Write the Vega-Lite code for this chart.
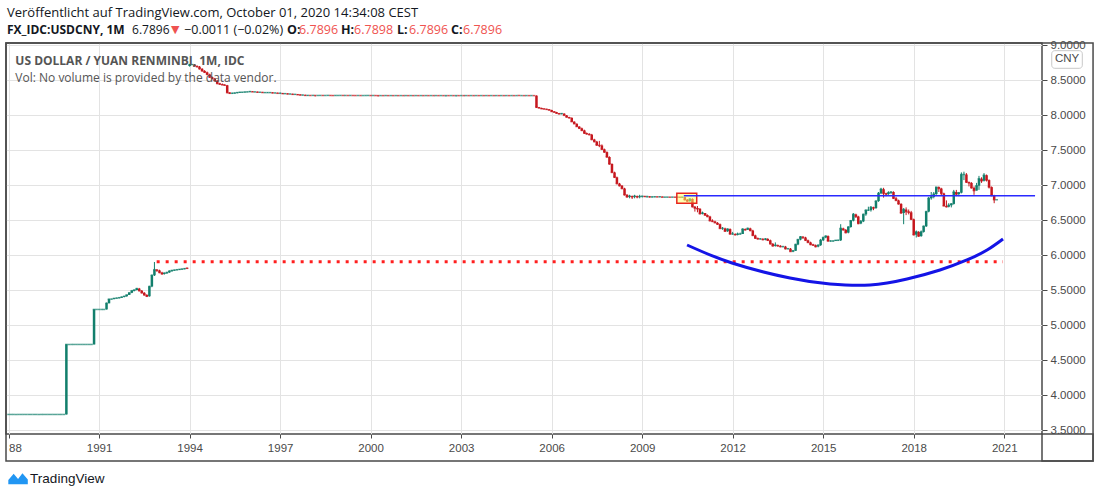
{
  "$schema": "https://vega.github.io/schema/vega-lite/v6.json",
  "width": 1036,
  "height": 391,
  "autosize": {"type": "none"},
  "padding": {"left": 6, "top": 43, "right": 58, "bottom": 64},
  "background": "white",
  "config": {
    "view": {"stroke": "#4a4a4a", "strokeWidth": 1.5},
    "font": "Liberation Sans",
    "axis": {"labelOverlap": false, "title": null}
  },
  "datasets": {
    "fx": [
      {"d":"1988-01-01","o":3.7221,"h":3.7221,"l":3.7221,"c":3.7221},
      {"d":"1988-02-01","o":3.7221,"h":3.7221,"l":3.7221,"c":3.7221},
      {"d":"1988-03-01","o":3.7221,"h":3.7221,"l":3.7221,"c":3.7221},
      {"d":"1988-04-01","o":3.7221,"h":3.7221,"l":3.7221,"c":3.7221},
      {"d":"1988-05-01","o":3.7221,"h":3.7221,"l":3.7221,"c":3.7221},
      {"d":"1988-06-01","o":3.7221,"h":3.7221,"l":3.7221,"c":3.7221},
      {"d":"1988-07-01","o":3.7221,"h":3.7221,"l":3.7221,"c":3.7221},
      {"d":"1988-08-01","o":3.7221,"h":3.7221,"l":3.7221,"c":3.7221},
      {"d":"1988-09-01","o":3.7221,"h":3.7221,"l":3.7221,"c":3.7221},
      {"d":"1988-10-01","o":3.7221,"h":3.7221,"l":3.7221,"c":3.7221},
      {"d":"1988-11-01","o":3.7221,"h":3.7221,"l":3.7221,"c":3.7221},
      {"d":"1988-12-01","o":3.7221,"h":3.7221,"l":3.7221,"c":3.7221},
      {"d":"1989-01-01","o":3.7221,"h":3.7221,"l":3.7221,"c":3.7221},
      {"d":"1989-02-01","o":3.7221,"h":3.7221,"l":3.7221,"c":3.7221},
      {"d":"1989-03-01","o":3.7221,"h":3.7221,"l":3.7221,"c":3.7221},
      {"d":"1989-04-01","o":3.7221,"h":3.7221,"l":3.7221,"c":3.7221},
      {"d":"1989-05-01","o":3.7221,"h":3.7221,"l":3.7221,"c":3.7221},
      {"d":"1989-06-01","o":3.7221,"h":3.7221,"l":3.7221,"c":3.7221},
      {"d":"1989-07-01","o":3.7221,"h":3.7221,"l":3.7221,"c":3.7221},
      {"d":"1989-08-01","o":3.7221,"h":3.7221,"l":3.7221,"c":3.7221},
      {"d":"1989-09-01","o":3.7221,"h":3.7221,"l":3.7221,"c":3.7221},
      {"d":"1989-10-01","o":3.7221,"h":3.7221,"l":3.7221,"c":3.7221},
      {"d":"1989-11-01","o":3.7221,"h":3.7221,"l":3.7221,"c":3.7221},
      {"d":"1989-12-01","o":3.7221,"h":4.7221,"l":3.7221,"c":4.7221},
      {"d":"1990-01-01","o":4.7221,"h":4.7221,"l":4.7221,"c":4.7221},
      {"d":"1990-02-01","o":4.7221,"h":4.7221,"l":4.7221,"c":4.7221},
      {"d":"1990-03-01","o":4.7221,"h":4.7221,"l":4.7221,"c":4.7221},
      {"d":"1990-04-01","o":4.7221,"h":4.7221,"l":4.7221,"c":4.7221},
      {"d":"1990-05-01","o":4.7221,"h":4.7221,"l":4.7221,"c":4.7221},
      {"d":"1990-06-01","o":4.7221,"h":4.7221,"l":4.7221,"c":4.7221},
      {"d":"1990-07-01","o":4.7221,"h":4.7221,"l":4.7221,"c":4.7221},
      {"d":"1990-08-01","o":4.7221,"h":4.7221,"l":4.7221,"c":4.7221},
      {"d":"1990-09-01","o":4.7221,"h":4.7221,"l":4.7221,"c":4.7221},
      {"d":"1990-10-01","o":4.7221,"h":4.7221,"l":4.7221,"c":4.7221},
      {"d":"1990-11-01","o":4.7221,"h":5.2221,"l":4.7221,"c":5.2221},
      {"d":"1990-12-01","o":5.2221,"h":5.2221,"l":5.2221,"c":5.2221},
      {"d":"1991-01-01","o":5.2221,"h":5.2221,"l":5.2221,"c":5.2221},
      {"d":"1991-02-01","o":5.2221,"h":5.2221,"l":5.2221,"c":5.2221},
      {"d":"1991-03-01","o":5.2221,"h":5.2221,"l":5.2221,"c":5.2221},
      {"d":"1991-04-01","o":5.2221,"h":5.32,"l":5.2221,"c":5.31},
      {"d":"1991-05-01","o":5.31,"h":5.37,"l":5.31,"c":5.37},
      {"d":"1991-06-01","o":5.37,"h":5.375,"l":5.365,"c":5.37},
      {"d":"1991-07-01","o":5.37,"h":5.385,"l":5.37,"c":5.38},
      {"d":"1991-08-01","o":5.38,"h":5.39,"l":5.38,"c":5.385},
      {"d":"1991-09-01","o":5.385,"h":5.395,"l":5.38,"c":5.39},
      {"d":"1991-10-01","o":5.39,"h":5.405,"l":5.39,"c":5.4},
      {"d":"1991-11-01","o":5.4,"h":5.415,"l":5.395,"c":5.41},
      {"d":"1991-12-01","o":5.41,"h":5.43,"l":5.405,"c":5.43},
      {"d":"1992-01-01","o":5.43,"h":5.46,"l":5.43,"c":5.46},
      {"d":"1992-02-01","o":5.46,"h":5.49,"l":5.455,"c":5.49},
      {"d":"1992-03-01","o":5.49,"h":5.505,"l":5.48,"c":5.5},
      {"d":"1992-04-01","o":5.5,"h":5.53,"l":5.495,"c":5.52},
      {"d":"1992-05-01","o":5.52,"h":5.53,"l":5.48,"c":5.49},
      {"d":"1992-06-01","o":5.49,"h":5.5,"l":5.45,"c":5.46},
      {"d":"1992-07-01","o":5.46,"h":5.47,"l":5.42,"c":5.43},
      {"d":"1992-08-01","o":5.43,"h":5.44,"l":5.4,"c":5.41},
      {"d":"1992-09-01","o":5.41,"h":5.56,"l":5.405,"c":5.55},
      {"d":"1992-10-01","o":5.55,"h":5.72,"l":5.54,"c":5.71},
      {"d":"1992-11-01","o":5.71,"h":5.9,"l":5.7,"c":5.79},
      {"d":"1992-12-01","o":5.79,"h":5.8,"l":5.76,"c":5.78},
      {"d":"1993-01-01","o":5.78,"h":5.79,"l":5.74,"c":5.75},
      {"d":"1993-02-01","o":5.75,"h":5.76,"l":5.72,"c":5.73},
      {"d":"1993-03-01","o":5.73,"h":5.75,"l":5.72,"c":5.74},
      {"d":"1993-04-01","o":5.74,"h":5.76,"l":5.73,"c":5.75},
      {"d":"1993-05-01","o":5.75,"h":5.78,"l":5.745,"c":5.77},
      {"d":"1993-06-01","o":5.77,"h":5.785,"l":5.76,"c":5.78},
      {"d":"1993-07-01","o":5.78,"h":5.79,"l":5.775,"c":5.785},
      {"d":"1993-08-01","o":5.785,"h":5.795,"l":5.78,"c":5.79},
      {"d":"1993-09-01","o":5.79,"h":5.8,"l":5.785,"c":5.795},
      {"d":"1993-10-01","o":5.795,"h":5.805,"l":5.79,"c":5.8},
      {"d":"1993-11-01","o":5.8,"h":5.81,"l":5.795,"c":5.805},
      {"d":"1993-12-01","o":5.815,"h":5.82,"l":5.8,"c":5.81},
      {"d":"1994-01-01","o":8.7,"h":8.73,"l":8.69,"c":8.72},
      {"d":"1994-02-01","o":8.72,"h":8.725,"l":8.715,"c":8.72},
      {"d":"1994-03-01","o":8.72,"h":8.725,"l":8.7,"c":8.7},
      {"d":"1994-04-01","o":8.7,"h":8.71,"l":8.68,"c":8.69},
      {"d":"1994-05-01","o":8.69,"h":8.7,"l":8.65,"c":8.66},
      {"d":"1994-06-01","o":8.66,"h":8.67,"l":8.62,"c":8.63},
      {"d":"1994-07-01","o":8.63,"h":8.64,"l":8.6,"c":8.61},
      {"d":"1994-08-01","o":8.61,"h":8.62,"l":8.57,"c":8.58},
      {"d":"1994-09-01","o":8.58,"h":8.59,"l":8.53,"c":8.54},
      {"d":"1994-10-01","o":8.54,"h":8.55,"l":8.51,"c":8.52},
      {"d":"1994-11-01","o":8.52,"h":8.53,"l":8.49,"c":8.49},
      {"d":"1994-12-01","o":8.49,"h":8.5,"l":8.44,"c":8.45},
      {"d":"1995-01-01","o":8.45,"h":8.46,"l":8.43,"c":8.44},
      {"d":"1995-02-01","o":8.44,"h":8.45,"l":8.43,"c":8.43},
      {"d":"1995-03-01","o":8.43,"h":8.44,"l":8.42,"c":8.425},
      {"d":"1995-04-01","o":8.425,"h":8.43,"l":8.31,"c":8.32},
      {"d":"1995-05-01","o":8.32,"h":8.325,"l":8.3,"c":8.31},
      {"d":"1995-06-01","o":8.31,"h":8.32,"l":8.3,"c":8.31},
      {"d":"1995-07-01","o":8.31,"h":8.32,"l":8.305,"c":8.315},
      {"d":"1995-08-01","o":8.315,"h":8.325,"l":8.31,"c":8.32},
      {"d":"1995-09-01","o":8.32,"h":8.33,"l":8.315,"c":8.325},
      {"d":"1995-10-01","o":8.325,"h":8.33,"l":8.32,"c":8.325},
      {"d":"1995-11-01","o":8.325,"h":8.33,"l":8.32,"c":8.33},
      {"d":"1995-12-01","o":8.33,"h":8.335,"l":8.325,"c":8.33},
      {"d":"1996-01-01","o":8.33,"h":8.34,"l":8.325,"c":8.335},
      {"d":"1996-02-01","o":8.335,"h":8.34,"l":8.33,"c":8.33},
      {"d":"1996-03-01","o":8.33,"h":8.335,"l":8.325,"c":8.33},
      {"d":"1996-04-01","o":8.33,"h":8.335,"l":8.32,"c":8.325},
      {"d":"1996-05-01","o":8.325,"h":8.33,"l":8.32,"c":8.325},
      {"d":"1996-06-01","o":8.325,"h":8.33,"l":8.32,"c":8.32},
      {"d":"1996-07-01","o":8.32,"h":8.325,"l":8.315,"c":8.32},
      {"d":"1996-08-01","o":8.32,"h":8.325,"l":8.315,"c":8.32},
      {"d":"1996-09-01","o":8.32,"h":8.325,"l":8.315,"c":8.32},
      {"d":"1996-10-01","o":8.32,"h":8.325,"l":8.31,"c":8.315},
      {"d":"1996-11-01","o":8.315,"h":8.32,"l":8.31,"c":8.315},
      {"d":"1996-12-01","o":8.315,"h":8.32,"l":8.31,"c":8.31},
      {"d":"1997-01-01","o":8.31,"h":8.32,"l":8.305,"c":8.31},
      {"d":"1997-02-01","o":8.31,"h":8.315,"l":8.3,"c":8.305},
      {"d":"1997-03-01","o":8.305,"h":8.31,"l":8.3,"c":8.305},
      {"d":"1997-04-01","o":8.305,"h":8.31,"l":8.295,"c":8.3},
      {"d":"1997-05-01","o":8.3,"h":8.305,"l":8.295,"c":8.3},
      {"d":"1997-06-01","o":8.3,"h":8.305,"l":8.29,"c":8.295},
      {"d":"1997-07-01","o":8.295,"h":8.3,"l":8.29,"c":8.295},
      {"d":"1997-08-01","o":8.295,"h":8.3,"l":8.285,"c":8.29},
      {"d":"1997-09-01","o":8.29,"h":8.295,"l":8.28,"c":8.285},
      {"d":"1997-10-01","o":8.285,"h":8.29,"l":8.28,"c":8.285},
      {"d":"1997-11-01","o":8.285,"h":8.29,"l":8.275,"c":8.28},
      {"d":"1997-12-01","o":8.28,"h":8.285,"l":8.275,"c":8.28},
      {"d":"1998-01-01","o":8.28,"h":8.282,"l":8.278,"c":8.279},
      {"d":"1998-02-01","o":8.279,"h":8.281,"l":8.278,"c":8.28},
      {"d":"1998-03-01","o":8.28,"h":8.281,"l":8.265,"c":8.279},
      {"d":"1998-04-01","o":8.279,"h":8.28,"l":8.278,"c":8.279},
      {"d":"1998-05-01","o":8.279,"h":8.28,"l":8.278,"c":8.2795},
      {"d":"1998-06-01","o":8.2795,"h":8.281,"l":8.278,"c":8.279},
      {"d":"1998-07-01","o":8.279,"h":8.28,"l":8.278,"c":8.279},
      {"d":"1998-08-01","o":8.279,"h":8.281,"l":8.278,"c":8.28},
      {"d":"1998-09-01","o":8.28,"h":8.281,"l":8.278,"c":8.279},
      {"d":"1998-10-01","o":8.279,"h":8.28,"l":8.277,"c":8.278},
      {"d":"1998-11-01","o":8.278,"h":8.28,"l":8.277,"c":8.279},
      {"d":"1998-12-01","o":8.279,"h":8.28,"l":8.278,"c":8.279},
      {"d":"1999-01-01","o":8.279,"h":8.28,"l":8.278,"c":8.2795},
      {"d":"1999-02-01","o":8.2795,"h":8.28,"l":8.278,"c":8.279},
      {"d":"1999-03-01","o":8.279,"h":8.28,"l":8.278,"c":8.279},
      {"d":"1999-04-01","o":8.279,"h":8.2795,"l":8.278,"c":8.2785},
      {"d":"1999-05-01","o":8.2785,"h":8.2795,"l":8.277,"c":8.279},
      {"d":"1999-06-01","o":8.279,"h":8.28,"l":8.278,"c":8.2785},
      {"d":"1999-07-01","o":8.2785,"h":8.279,"l":8.277,"c":8.278},
      {"d":"1999-08-01","o":8.278,"h":8.279,"l":8.2775,"c":8.2785},
      {"d":"1999-09-01","o":8.2785,"h":8.279,"l":8.277,"c":8.278},
      {"d":"1999-10-01","o":8.278,"h":8.279,"l":8.2775,"c":8.278},
      {"d":"1999-11-01","o":8.278,"h":8.279,"l":8.277,"c":8.2785},
      {"d":"1999-12-01","o":8.2785,"h":8.279,"l":8.277,"c":8.279},
      {"d":"2000-01-01","o":8.279,"h":8.2795,"l":8.277,"c":8.278},
      {"d":"2000-02-01","o":8.278,"h":8.279,"l":8.2775,"c":8.2785},
      {"d":"2000-03-01","o":8.2785,"h":8.279,"l":8.277,"c":8.278},
      {"d":"2000-04-01","o":8.278,"h":8.279,"l":8.265,"c":8.277},
      {"d":"2000-05-01","o":8.277,"h":8.278,"l":8.2765,"c":8.2775},
      {"d":"2000-06-01","o":8.2775,"h":8.278,"l":8.2765,"c":8.277},
      {"d":"2000-07-01","o":8.277,"h":8.2785,"l":8.2765,"c":8.278},
      {"d":"2000-08-01","o":8.278,"h":8.2785,"l":8.2765,"c":8.277},
      {"d":"2000-09-01","o":8.277,"h":8.278,"l":8.2765,"c":8.2775},
      {"d":"2000-10-01","o":8.2775,"h":8.278,"l":8.2765,"c":8.277},
      {"d":"2000-11-01","o":8.277,"h":8.278,"l":8.2765,"c":8.2775},
      {"d":"2000-12-01","o":8.2775,"h":8.278,"l":8.2765,"c":8.277},
      {"d":"2001-01-01","o":8.277,"h":8.278,"l":8.2765,"c":8.2775},
      {"d":"2001-02-01","o":8.2775,"h":8.278,"l":8.2765,"c":8.277},
      {"d":"2001-03-01","o":8.277,"h":8.278,"l":8.2765,"c":8.2775},
      {"d":"2001-04-01","o":8.2775,"h":8.278,"l":8.2765,"c":8.277},
      {"d":"2001-05-01","o":8.277,"h":8.278,"l":8.2765,"c":8.2775},
      {"d":"2001-06-01","o":8.2775,"h":8.278,"l":8.2765,"c":8.277},
      {"d":"2001-07-01","o":8.277,"h":8.278,"l":8.2765,"c":8.2775},
      {"d":"2001-08-01","o":8.2775,"h":8.278,"l":8.2765,"c":8.277},
      {"d":"2001-09-01","o":8.277,"h":8.278,"l":8.2765,"c":8.2775},
      {"d":"2001-10-01","o":8.2775,"h":8.278,"l":8.2765,"c":8.277},
      {"d":"2001-11-01","o":8.277,"h":8.278,"l":8.2765,"c":8.2775},
      {"d":"2001-12-01","o":8.2775,"h":8.278,"l":8.2765,"c":8.277},
      {"d":"2002-01-01","o":8.277,"h":8.278,"l":8.2765,"c":8.2775},
      {"d":"2002-02-01","o":8.2775,"h":8.278,"l":8.2765,"c":8.277},
      {"d":"2002-03-01","o":8.277,"h":8.278,"l":8.2765,"c":8.2775},
      {"d":"2002-04-01","o":8.2775,"h":8.278,"l":8.2765,"c":8.277},
      {"d":"2002-05-01","o":8.277,"h":8.278,"l":8.2765,"c":8.2775},
      {"d":"2002-06-01","o":8.2775,"h":8.278,"l":8.2765,"c":8.277},
      {"d":"2002-07-01","o":8.277,"h":8.278,"l":8.265,"c":8.2775},
      {"d":"2002-08-01","o":8.2775,"h":8.278,"l":8.2765,"c":8.277},
      {"d":"2002-09-01","o":8.277,"h":8.278,"l":8.2765,"c":8.2775},
      {"d":"2002-10-01","o":8.2775,"h":8.278,"l":8.2765,"c":8.277},
      {"d":"2002-11-01","o":8.277,"h":8.278,"l":8.265,"c":8.2775},
      {"d":"2002-12-01","o":8.2775,"h":8.278,"l":8.2765,"c":8.277},
      {"d":"2003-01-01","o":8.277,"h":8.278,"l":8.2765,"c":8.2775},
      {"d":"2003-02-01","o":8.2775,"h":8.278,"l":8.2765,"c":8.277},
      {"d":"2003-03-01","o":8.277,"h":8.278,"l":8.2765,"c":8.2775},
      {"d":"2003-04-01","o":8.2775,"h":8.278,"l":8.2765,"c":8.277},
      {"d":"2003-05-01","o":8.277,"h":8.278,"l":8.2765,"c":8.2775},
      {"d":"2003-06-01","o":8.2775,"h":8.278,"l":8.2765,"c":8.277},
      {"d":"2003-07-01","o":8.277,"h":8.278,"l":8.2765,"c":8.2775},
      {"d":"2003-08-01","o":8.2775,"h":8.278,"l":8.2765,"c":8.277},
      {"d":"2003-09-01","o":8.277,"h":8.278,"l":8.2765,"c":8.2775},
      {"d":"2003-10-01","o":8.2775,"h":8.278,"l":8.2765,"c":8.277},
      {"d":"2003-11-01","o":8.277,"h":8.278,"l":8.2765,"c":8.2775},
      {"d":"2003-12-01","o":8.2775,"h":8.278,"l":8.2765,"c":8.277},
      {"d":"2004-01-01","o":8.277,"h":8.278,"l":8.2765,"c":8.2775},
      {"d":"2004-02-01","o":8.2775,"h":8.278,"l":8.2765,"c":8.277},
      {"d":"2004-03-01","o":8.277,"h":8.278,"l":8.2765,"c":8.2775},
      {"d":"2004-04-01","o":8.2775,"h":8.278,"l":8.2765,"c":8.277},
      {"d":"2004-05-01","o":8.277,"h":8.278,"l":8.2765,"c":8.2775},
      {"d":"2004-06-01","o":8.2775,"h":8.278,"l":8.2765,"c":8.277},
      {"d":"2004-07-01","o":8.277,"h":8.278,"l":8.2765,"c":8.2775},
      {"d":"2004-08-01","o":8.2775,"h":8.278,"l":8.2765,"c":8.277},
      {"d":"2004-09-01","o":8.277,"h":8.278,"l":8.2765,"c":8.2775},
      {"d":"2004-10-01","o":8.2775,"h":8.278,"l":8.2765,"c":8.277},
      {"d":"2004-11-01","o":8.277,"h":8.278,"l":8.2765,"c":8.2775},
      {"d":"2004-12-01","o":8.2775,"h":8.278,"l":8.2765,"c":8.277},
      {"d":"2005-01-01","o":8.277,"h":8.278,"l":8.2765,"c":8.2775},
      {"d":"2005-02-01","o":8.2775,"h":8.278,"l":8.2765,"c":8.277},
      {"d":"2005-03-01","o":8.277,"h":8.278,"l":8.2765,"c":8.2775},
      {"d":"2005-04-01","o":8.2775,"h":8.278,"l":8.2765,"c":8.277},
      {"d":"2005-05-01","o":8.277,"h":8.278,"l":8.2765,"c":8.2775},
      {"d":"2005-06-01","o":8.2775,"h":8.278,"l":8.2765,"c":8.277},
      {"d":"2005-07-01","o":8.277,"h":8.28,"l":8.1,"c":8.11},
      {"d":"2005-08-01","o":8.11,"h":8.115,"l":8.095,"c":8.1},
      {"d":"2005-09-01","o":8.1,"h":8.105,"l":8.085,"c":8.09},
      {"d":"2005-10-01","o":8.09,"h":8.095,"l":8.08,"c":8.085},
      {"d":"2005-11-01","o":8.085,"h":8.09,"l":8.075,"c":8.08},
      {"d":"2005-12-01","o":8.08,"h":8.085,"l":8.065,"c":8.07},
      {"d":"2006-01-01","o":8.07,"h":8.075,"l":8.045,"c":8.05},
      {"d":"2006-02-01","o":8.05,"h":8.055,"l":8.035,"c":8.04},
      {"d":"2006-03-01","o":8.04,"h":8.045,"l":8.02,"c":8.025},
      {"d":"2006-04-01","o":8.025,"h":8.03,"l":8.01,"c":8.015},
      {"d":"2006-05-01","o":8.015,"h":8.025,"l":8.01,"c":8.02},
      {"d":"2006-06-01","o":8.02,"h":8.025,"l":7.99,"c":7.995},
      {"d":"2006-07-01","o":7.995,"h":8.0,"l":7.965,"c":7.97},
      {"d":"2006-08-01","o":7.97,"h":7.975,"l":7.95,"c":7.96},
      {"d":"2006-09-01","o":7.96,"h":7.965,"l":7.9,"c":7.905},
      {"d":"2006-10-01","o":7.905,"h":7.91,"l":7.87,"c":7.875},
      {"d":"2006-11-01","o":7.875,"h":7.88,"l":7.83,"c":7.835},
      {"d":"2006-12-01","o":7.835,"h":7.84,"l":7.8,"c":7.81},
      {"d":"2007-01-01","o":7.81,"h":7.82,"l":7.77,"c":7.78},
      {"d":"2007-02-01","o":7.78,"h":7.79,"l":7.73,"c":7.74},
      {"d":"2007-03-01","o":7.74,"h":7.75,"l":7.72,"c":7.73},
      {"d":"2007-04-01","o":7.73,"h":7.74,"l":7.71,"c":7.72},
      {"d":"2007-05-01","o":7.72,"h":7.73,"l":7.64,"c":7.65},
      {"d":"2007-06-01","o":7.65,"h":7.66,"l":7.61,"c":7.62},
      {"d":"2007-07-01","o":7.62,"h":7.63,"l":7.56,"c":7.57},
      {"d":"2007-08-01","o":7.57,"h":7.63,"l":7.54,"c":7.565},
      {"d":"2007-09-01","o":7.565,"h":7.58,"l":7.5,"c":7.51},
      {"d":"2007-10-01","o":7.51,"h":7.52,"l":7.46,"c":7.47},
      {"d":"2007-11-01","o":7.47,"h":7.48,"l":7.39,"c":7.4},
      {"d":"2007-12-01","o":7.4,"h":7.41,"l":7.29,"c":7.3},
      {"d":"2008-01-01","o":7.3,"h":7.31,"l":7.17,"c":7.18},
      {"d":"2008-02-01","o":7.18,"h":7.19,"l":7.1,"c":7.11},
      {"d":"2008-03-01","o":7.11,"h":7.12,"l":7.01,"c":7.02},
      {"d":"2008-04-01","o":7.02,"h":7.03,"l":6.98,"c":6.99},
      {"d":"2008-05-01","o":6.99,"h":7.0,"l":6.94,"c":6.95},
      {"d":"2008-06-01","o":6.95,"h":6.96,"l":6.85,"c":6.86},
      {"d":"2008-07-01","o":6.86,"h":6.87,"l":6.82,"c":6.83},
      {"d":"2008-08-01","o":6.83,"h":6.86,"l":6.81,"c":6.84},
      {"d":"2008-09-01","o":6.84,"h":6.85,"l":6.8,"c":6.83},
      {"d":"2008-10-01","o":6.83,"h":6.86,"l":6.81,"c":6.84},
      {"d":"2008-11-01","o":6.84,"h":6.85,"l":6.81,"c":6.83},
      {"d":"2008-12-01","o":6.83,"h":6.86,"l":6.81,"c":6.835},
      {"d":"2009-01-01","o":6.835,"h":6.845,"l":6.82,"c":6.84},
      {"d":"2009-02-01","o":6.84,"h":6.845,"l":6.83,"c":6.835},
      {"d":"2009-03-01","o":6.835,"h":6.845,"l":6.82,"c":6.835},
      {"d":"2009-04-01","o":6.835,"h":6.84,"l":6.82,"c":6.83},
      {"d":"2009-05-01","o":6.83,"h":6.84,"l":6.82,"c":6.83},
      {"d":"2009-06-01","o":6.83,"h":6.835,"l":6.825,"c":6.832},
      {"d":"2009-07-01","o":6.832,"h":6.835,"l":6.825,"c":6.83},
      {"d":"2009-08-01","o":6.83,"h":6.835,"l":6.825,"c":6.832},
      {"d":"2009-09-01","o":6.832,"h":6.835,"l":6.825,"c":6.826},
      {"d":"2009-10-01","o":6.826,"h":6.83,"l":6.824,"c":6.827},
      {"d":"2009-11-01","o":6.827,"h":6.83,"l":6.824,"c":6.827},
      {"d":"2009-12-01","o":6.827,"h":6.83,"l":6.825,"c":6.826},
      {"d":"2010-01-01","o":6.826,"h":6.83,"l":6.825,"c":6.827},
      {"d":"2010-02-01","o":6.827,"h":6.83,"l":6.825,"c":6.826},
      {"d":"2010-03-01","o":6.826,"h":6.83,"l":6.825,"c":6.826},
      {"d":"2010-04-01","o":6.826,"h":6.83,"l":6.824,"c":6.825},
      {"d":"2010-05-01","o":6.825,"h":6.83,"l":6.82,"c":6.827},
      {"d":"2010-06-01","o":6.827,"h":6.83,"l":6.78,"c":6.79},
      {"d":"2010-07-01","o":6.79,"h":6.8,"l":6.76,"c":6.77},
      {"d":"2010-08-01","o":6.77,"h":6.81,"l":6.76,"c":6.8},
      {"d":"2010-09-01","o":6.8,"h":6.81,"l":6.68,"c":6.69},
      {"d":"2010-10-01","o":6.69,"h":6.7,"l":6.62,"c":6.67},
      {"d":"2010-11-01","o":6.67,"h":6.7,"l":6.61,"c":6.66},
      {"d":"2010-12-01","o":6.66,"h":6.67,"l":6.58,"c":6.59},
      {"d":"2011-01-01","o":6.59,"h":6.62,"l":6.58,"c":6.6},
      {"d":"2011-02-01","o":6.6,"h":6.6,"l":6.56,"c":6.57},
      {"d":"2011-03-01","o":6.57,"h":6.58,"l":6.54,"c":6.55},
      {"d":"2011-04-01","o":6.55,"h":6.56,"l":6.48,"c":6.49},
      {"d":"2011-05-01","o":6.49,"h":6.51,"l":6.47,"c":6.48},
      {"d":"2011-06-01","o":6.48,"h":6.49,"l":6.46,"c":6.46},
      {"d":"2011-07-01","o":6.46,"h":6.47,"l":6.43,"c":6.44},
      {"d":"2011-08-01","o":6.44,"h":6.45,"l":6.37,"c":6.38},
      {"d":"2011-09-01","o":6.38,"h":6.4,"l":6.36,"c":6.38},
      {"d":"2011-10-01","o":6.38,"h":6.39,"l":6.33,"c":6.34},
      {"d":"2011-11-01","o":6.34,"h":6.38,"l":6.33,"c":6.37},
      {"d":"2011-12-01","o":6.37,"h":6.38,"l":6.29,"c":6.3},
      {"d":"2012-01-01","o":6.3,"h":6.33,"l":6.29,"c":6.3},
      {"d":"2012-02-01","o":6.3,"h":6.31,"l":6.28,"c":6.29},
      {"d":"2012-03-01","o":6.29,"h":6.32,"l":6.28,"c":6.3},
      {"d":"2012-04-01","o":6.3,"h":6.32,"l":6.29,"c":6.3},
      {"d":"2012-05-01","o":6.3,"h":6.38,"l":6.3,"c":6.37},
      {"d":"2012-06-01","o":6.37,"h":6.38,"l":6.35,"c":6.36},
      {"d":"2012-07-01","o":6.36,"h":6.39,"l":6.36,"c":6.38},
      {"d":"2012-08-01","o":6.38,"h":6.39,"l":6.34,"c":6.35},
      {"d":"2012-09-01","o":6.35,"h":6.36,"l":6.27,"c":6.28},
      {"d":"2012-10-01","o":6.28,"h":6.29,"l":6.23,"c":6.24},
      {"d":"2012-11-01","o":6.24,"h":6.25,"l":6.22,"c":6.23},
      {"d":"2012-12-01","o":6.23,"h":6.24,"l":6.22,"c":6.23},
      {"d":"2013-01-01","o":6.23,"h":6.24,"l":6.21,"c":6.22},
      {"d":"2013-02-01","o":6.22,"h":6.24,"l":6.21,"c":6.23},
      {"d":"2013-03-01","o":6.23,"h":6.24,"l":6.2,"c":6.21},
      {"d":"2013-04-01","o":6.21,"h":6.22,"l":6.15,"c":6.16},
      {"d":"2013-05-01","o":6.16,"h":6.17,"l":6.12,"c":6.13},
      {"d":"2013-06-01","o":6.13,"h":6.18,"l":6.12,"c":6.14},
      {"d":"2013-07-01","o":6.14,"h":6.15,"l":6.12,"c":6.13},
      {"d":"2013-08-01","o":6.13,"h":6.14,"l":6.11,"c":6.12},
      {"d":"2013-09-01","o":6.12,"h":6.13,"l":6.11,"c":6.12},
      {"d":"2013-10-01","o":6.12,"h":6.13,"l":6.08,"c":6.09},
      {"d":"2013-11-01","o":6.09,"h":6.1,"l":6.08,"c":6.09},
      {"d":"2013-12-01","o":6.09,"h":6.1,"l":6.05,"c":6.05},
      {"d":"2014-01-01","o":6.05,"h":6.07,"l":6.04,"c":6.06},
      {"d":"2014-02-01","o":6.06,"h":6.16,"l":6.06,"c":6.15},
      {"d":"2014-03-01","o":6.15,"h":6.23,"l":6.14,"c":6.22},
      {"d":"2014-04-01","o":6.22,"h":6.27,"l":6.21,"c":6.26},
      {"d":"2014-05-01","o":6.26,"h":6.27,"l":6.23,"c":6.25},
      {"d":"2014-06-01","o":6.25,"h":6.26,"l":6.2,"c":6.21},
      {"d":"2014-07-01","o":6.21,"h":6.22,"l":6.17,"c":6.18},
      {"d":"2014-08-01","o":6.18,"h":6.19,"l":6.14,"c":6.15},
      {"d":"2014-09-01","o":6.15,"h":6.16,"l":6.13,"c":6.14},
      {"d":"2014-10-01","o":6.14,"h":6.15,"l":6.11,"c":6.12},
      {"d":"2014-11-01","o":6.12,"h":6.15,"l":6.11,"c":6.14},
      {"d":"2014-12-01","o":6.14,"h":6.23,"l":6.13,"c":6.21},
      {"d":"2015-01-01","o":6.21,"h":6.26,"l":6.2,"c":6.25},
      {"d":"2015-02-01","o":6.25,"h":6.28,"l":6.24,"c":6.27},
      {"d":"2015-03-01","o":6.27,"h":6.28,"l":6.19,"c":6.2},
      {"d":"2015-04-01","o":6.2,"h":6.21,"l":6.19,"c":6.2},
      {"d":"2015-05-01","o":6.2,"h":6.21,"l":6.19,"c":6.2},
      {"d":"2015-06-01","o":6.2,"h":6.21,"l":6.2,"c":6.21},
      {"d":"2015-07-01","o":6.21,"h":6.22,"l":6.2,"c":6.21},
      {"d":"2015-08-01","o":6.21,"h":6.44,"l":6.2,"c":6.38},
      {"d":"2015-09-01","o":6.38,"h":6.39,"l":6.35,"c":6.36},
      {"d":"2015-10-01","o":6.36,"h":6.37,"l":6.31,"c":6.32},
      {"d":"2015-11-01","o":6.32,"h":6.41,"l":6.31,"c":6.4},
      {"d":"2015-12-01","o":6.4,"h":6.5,"l":6.39,"c":6.49},
      {"d":"2016-01-01","o":6.49,"h":6.6,"l":6.48,"c":6.58},
      {"d":"2016-02-01","o":6.58,"h":6.59,"l":6.53,"c":6.55},
      {"d":"2016-03-01","o":6.55,"h":6.56,"l":6.44,"c":6.45},
      {"d":"2016-04-01","o":6.45,"h":6.5,"l":6.44,"c":6.48},
      {"d":"2016-05-01","o":6.48,"h":6.59,"l":6.47,"c":6.58},
      {"d":"2016-06-01","o":6.58,"h":6.65,"l":6.56,"c":6.64},
      {"d":"2016-07-01","o":6.64,"h":6.69,"l":6.63,"c":6.64},
      {"d":"2016-08-01","o":6.64,"h":6.7,"l":6.62,"c":6.68},
      {"d":"2016-09-01","o":6.68,"h":6.69,"l":6.64,"c":6.67},
      {"d":"2016-10-01","o":6.67,"h":6.78,"l":6.66,"c":6.77},
      {"d":"2016-11-01","o":6.77,"h":6.9,"l":6.76,"c":6.88},
      {"d":"2016-12-01","o":6.88,"h":6.96,"l":6.87,"c":6.94},
      {"d":"2017-01-01","o":6.94,"h":6.96,"l":6.82,"c":6.88},
      {"d":"2017-02-01","o":6.88,"h":6.89,"l":6.84,"c":6.87},
      {"d":"2017-03-01","o":6.87,"h":6.91,"l":6.86,"c":6.89},
      {"d":"2017-04-01","o":6.89,"h":6.91,"l":6.87,"c":6.9},
      {"d":"2017-05-01","o":6.9,"h":6.91,"l":6.8,"c":6.81},
      {"d":"2017-06-01","o":6.81,"h":6.83,"l":6.77,"c":6.78},
      {"d":"2017-07-01","o":6.78,"h":6.79,"l":6.72,"c":6.73},
      {"d":"2017-08-01","o":6.73,"h":6.74,"l":6.59,"c":6.6},
      {"d":"2017-09-01","o":6.6,"h":6.67,"l":6.44,"c":6.65},
      {"d":"2017-10-01","o":6.65,"h":6.68,"l":6.57,"c":6.62},
      {"d":"2017-11-01","o":6.62,"h":6.65,"l":6.58,"c":6.61},
      {"d":"2017-12-01","o":6.61,"h":6.63,"l":6.5,"c":6.51},
      {"d":"2018-01-01","o":6.51,"h":6.52,"l":6.28,"c":6.29},
      {"d":"2018-02-01","o":6.29,"h":6.35,"l":6.25,"c":6.33},
      {"d":"2018-03-01","o":6.33,"h":6.34,"l":6.26,"c":6.27},
      {"d":"2018-04-01","o":6.27,"h":6.35,"l":6.26,"c":6.33},
      {"d":"2018-05-01","o":6.33,"h":6.42,"l":6.32,"c":6.41},
      {"d":"2018-06-01","o":6.41,"h":6.63,"l":6.4,"c":6.62},
      {"d":"2018-07-01","o":6.62,"h":6.83,"l":6.61,"c":6.81},
      {"d":"2018-08-01","o":6.81,"h":6.9,"l":6.79,"c":6.83},
      {"d":"2018-09-01","o":6.83,"h":6.9,"l":6.81,"c":6.87},
      {"d":"2018-10-01","o":6.87,"h":6.97,"l":6.86,"c":6.97},
      {"d":"2018-11-01","o":6.97,"h":6.98,"l":6.9,"c":6.95},
      {"d":"2018-12-01","o":6.95,"h":6.96,"l":6.85,"c":6.88},
      {"d":"2019-01-01","o":6.88,"h":6.89,"l":6.7,"c":6.7},
      {"d":"2019-02-01","o":6.7,"h":6.78,"l":6.68,"c":6.69},
      {"d":"2019-03-01","o":6.69,"h":6.74,"l":6.68,"c":6.71},
      {"d":"2019-04-01","o":6.71,"h":6.74,"l":6.68,"c":6.73},
      {"d":"2019-05-01","o":6.73,"h":6.93,"l":6.72,"c":6.9},
      {"d":"2019-06-01","o":6.9,"h":6.93,"l":6.84,"c":6.87},
      {"d":"2019-07-01","o":6.87,"h":6.9,"l":6.84,"c":6.89},
      {"d":"2019-08-01","o":6.89,"h":7.18,"l":6.88,"c":7.15},
      {"d":"2019-09-01","o":7.15,"h":7.19,"l":7.07,"c":7.15},
      {"d":"2019-10-01","o":7.15,"h":7.17,"l":7.03,"c":7.04},
      {"d":"2019-11-01","o":7.04,"h":7.05,"l":6.98,"c":7.03},
      {"d":"2019-12-01","o":7.03,"h":7.04,"l":6.95,"c":6.96},
      {"d":"2020-01-01","o":6.96,"h":6.98,"l":6.86,"c":6.92},
      {"d":"2020-02-01","o":6.92,"h":7.03,"l":6.92,"c":6.99},
      {"d":"2020-03-01","o":6.99,"h":7.13,"l":6.93,"c":7.09},
      {"d":"2020-04-01","o":7.09,"h":7.11,"l":7.03,"c":7.06},
      {"d":"2020-05-01","o":7.06,"h":7.17,"l":7.05,"c":7.14},
      {"d":"2020-06-01","o":7.14,"h":7.15,"l":7.05,"c":7.07},
      {"d":"2020-07-01","o":7.07,"h":7.08,"l":6.95,"c":6.97},
      {"d":"2020-08-01","o":6.97,"h":6.98,"l":6.84,"c":6.85},
      {"d":"2020-09-01","o":6.85,"h":6.86,"l":6.74,"c":6.79},
      {"d":"2020-10-01","o":6.789,"h":6.7898,"l":6.7896,"c":6.7896}
    ],
    "arc": [
      {"d":"2010-06-28","v":6.143},
      {"d":"2011-12-24","v":5.886},
      {"d":"2013-11-25","v":5.671},
      {"d":"2015-03-25","v":5.586},
      {"d":"2016-07-22","v":5.571},
      {"d":"2017-10-12","v":5.657},
      {"d":"2018-11-15","v":5.786},
      {"d":"2019-10-08","v":5.929},
      {"d":"2020-06-07","v":6.071},
      {"d":"2020-12-17","v":6.229}
    ],
    "support": [{"d1":"1992-11-28","d2":"2020-12-17","v":5.905}],
    "neckline": [{"d1":"2010-05-20","d2":"2022-01-09","v":6.845}],
    "box": [{"d1":"2010-02-24","d2":"2010-10-23","v1":6.881,"v2":6.738}],
    "one": [{}]
  },
  "layer": [
    {
      "data": {"name": "fx"},
      "mark": {"type": "rule", "strokeWidth": 1},
      "encoding": {
        "x": {
          "field": "d", "type": "temporal",
          "scale": {"domain": [{"year":1987,"month":12,"date":1},{"year":2022,"month":4,"date":3}], "nice": false, "padding": 0},
          "axis": {
            "title": null,
            "orient": "bottom",
            "values": [
              {"year":1988,"month":1,"date":1},{"year":1991,"month":1,"date":1},{"year":1994,"month":1,"date":1},
              {"year":1997,"month":1,"date":1},{"year":2000,"month":1,"date":1},{"year":2003,"month":1,"date":1},
              {"year":2006,"month":1,"date":1},{"year":2009,"month":1,"date":1},{"year":2012,"month":1,"date":1},
              {"year":2015,"month":1,"date":1},{"year":2018,"month":1,"date":1},{"year":2021,"month":1,"date":1}
            ],
            "labelExpr": "year(datum.value) == 1988 ? '88' : timeFormat(datum.value, '%Y')",
            "labelFlush": 5,
            "labelFont": "Liberation Sans",
            "labelFontSize": 11.5,
            "labelColor": "#4a4a4a",
            "labelPadding": 4,
            "labelOverlap": false,
            "tickSize": 4,
            "tickColor": "#4a4a4a",
            "domain": false,
            "grid": true,
            "gridColor": "#e3e3e3"
          }
        },
        "y": {
          "field": "l", "type": "quantitative",
          "scale": {"domain": [3.4429, 9.0286], "nice": false, "zero": false},
          "axis": {
            "title": null,
            "orient": "right",
            "tickCount": 12,
            "format": ".4f",
            "labelFont": "Liberation Sans",
            "labelFontSize": 11.5,
            "labelColor": "#4a4a4a",
            "labelPadding": 3,
            "labelOverlap": false,
            "tickSize": 5,
            "tickColor": "#4a4a4a",
            "domain": false,
            "grid": true,
            "gridColor": "#e3e3e3"
          }
        },
        "y2": {"field": "h"},
        "color": {"condition": {"test": "datum.c >= datum.o", "value": "#127f6c"}, "value": "#c6171e"}
      }
    },
    {
      "data": {"name": "fx"},
      "mark": {"type": "bar", "size": 2.5},
      "encoding": {
        "x": {"field": "d", "type": "temporal", "axis": {"title": null}},
        "y": {"field": "o", "type": "quantitative", "axis": {"title": null}},
        "y2": {"field": "c"},
        "color": {"condition": {"test": "datum.c >= datum.o", "value": "#127f6c"}, "value": "#c6171e"}
      }
    },
    {
      "data": {"name": "fx"},
      "mark": {"type": "tick", "orient": "horizontal", "size": 2.6, "thickness": 1.5},
      "encoding": {
        "x": {"field": "d", "type": "temporal", "axis": {"title": null}},
        "y": {"field": "c", "type": "quantitative", "axis": {"title": null}},
        "color": {"condition": {"test": "datum.c >= datum.o", "value": "#127f6c"}, "value": "#c6171e"}
      }
    },
    {
      "data": {"name": "box"},
      "mark": {"type": "rect", "fill": "#ffff66", "fillOpacity": 0.5, "stroke": "#e8261e", "strokeWidth": 1.5},
      "encoding": {
        "x": {"field": "d1", "type": "temporal", "axis": {"title": null}},
        "x2": {"field": "d2"},
        "y": {"field": "v1", "type": "quantitative", "axis": {"title": null}},
        "y2": {"field": "v2"}
      }
    },
    {
      "data": {"name": "support"},
      "mark": {"type": "rule", "color": "#ff1f1f", "strokeWidth": 3, "strokeDash": [3, 6]},
      "encoding": {
        "x": {"field": "d1", "type": "temporal", "axis": {"title": null}},
        "x2": {"field": "d2"},
        "y": {"field": "v", "type": "quantitative", "axis": {"title": null}}
      }
    },
    {
      "data": {"name": "neckline"},
      "mark": {"type": "rule", "color": "#2a2aff", "strokeWidth": 1.5},
      "encoding": {
        "x": {"field": "d1", "type": "temporal", "axis": {"title": null}},
        "x2": {"field": "d2"},
        "y": {"field": "v", "type": "quantitative", "axis": {"title": null}}
      }
    },
    {
      "data": {"name": "arc"},
      "mark": {"type": "line", "color": "#1414e6", "strokeWidth": 3, "interpolate": "natural"},
      "encoding": {
        "x": {"field": "d", "type": "temporal", "axis": {"title": null}},
        "y": {"field": "v", "type": "quantitative", "axis": {"title": null}}
      }
    },
    {
      "data": {"name": "one"},
      "mark": {"type": "text", "text": "US DOLLAR / YUAN RENMINBI, 1M, IDC", "align": "left", "baseline": "middle", "fontSize": 12, "fontWeight": "bold", "color": "#555555", "font": "Open Sans"},
      "encoding": {
        "x": {"datum": {"year": 1988, "month": 3, "date": 23}, "type": "temporal", "axis": {"title": null}},
        "y": {"datum": 8.776, "type": "quantitative", "axis": {"title": null}}
      }
    },
    {
      "data": {"name": "one"},
      "mark": {"type": "text", "text": "Vol: No volume is provided by the data vendor.", "align": "left", "baseline": "middle", "fontSize": 12, "color": "#555555", "font": "Open Sans"},
      "encoding": {
        "x": {"datum": {"year": 1988, "month": 3, "date": 23}, "type": "temporal", "axis": {"title": null}},
        "y": {"datum": 8.533, "type": "quantitative", "axis": {"title": null}}
      }
    },
    {
      "data": {"name": "one"},
      "mark": {"type": "text", "text": "Veröffentlicht auf TradingView.com, October 01, 2020 14:34:08 CEST", "align": "left", "baseline": "middle", "fontSize": 13, "color": "#131722", "font": "Open Sans"},
      "encoding": {
        "x": {"datum": {"year": 1987, "month": 12, "date": 13}, "type": "temporal", "axis": {"title": null}},
        "y": {"datum": 9.457, "type": "quantitative", "axis": {"title": null}}
      }
    },
    {
      "data": {"name": "one"},
      "mark": {"type": "text", "text": "FX_IDC:USDCNY, 1M", "align": "left", "baseline": "middle", "fontSize": 12, "fontWeight": "bold", "color": "#131722", "font": "Open Sans"},
      "encoding": {
        "x": {"datum": {"year": 1987, "month": 12, "date": 13}, "type": "temporal", "axis": {"title": null}},
        "y": {"datum": 9.214, "type": "quantitative", "axis": {"title": null}}
      }
    },
    {
      "data": {"name": "one"},
      "mark": {"type": "text", "text": "6.7896", "align": "left", "baseline": "middle", "fontSize": 12, "color": "#131722", "font": "Open Sans"},
      "encoding": {
        "x": {"datum": {"year": 1992, "month": 2, "date": 4}, "type": "temporal", "axis": {"title": null}},
        "y": {"datum": 9.214, "type": "quantitative", "axis": {"title": null}}
      }
    },
    {
      "data": {"name": "one"},
      "mark": {"type": "text", "text": "▼", "align": "left", "baseline": "middle", "fontSize": 11, "color": "#ef5350", "font": "DejaVu Sans"},
      "encoding": {
        "x": {"datum": {"year": 1993, "month": 5, "date": 22}, "type": "temporal", "axis": {"title": null}},
        "y": {"datum": 9.214, "type": "quantitative", "axis": {"title": null}}
      }
    },
    {
      "data": {"name": "one"},
      "mark": {"type": "text", "text": "−0.0011 (−0.02%)", "align": "left", "baseline": "middle", "fontSize": 12.5, "color": "#131722", "font": "Open Sans"},
      "encoding": {
        "x": {"datum": {"year": 1993, "month": 10, "date": 26}, "type": "temporal", "axis": {"title": null}},
        "y": {"datum": 9.214, "type": "quantitative", "axis": {"title": null}}
      }
    },
    {
      "data": {"name": "one"},
      "mark": {"type": "text", "text": "O:", "align": "left", "baseline": "middle", "fontSize": 12.5, "fontWeight": "bold", "color": "#131722", "font": "Open Sans"},
      "encoding": {
        "x": {"datum": {"year": 1997, "month": 3, "date": 25}, "type": "temporal", "axis": {"title": null}},
        "y": {"datum": 9.214, "type": "quantitative", "axis": {"title": null}}
      }
    },
    {
      "data": {"name": "one"},
      "mark": {"type": "text", "text": "6.7896", "align": "left", "baseline": "middle", "fontSize": 12.5, "color": "#ef5350", "font": "Open Sans"},
      "encoding": {
        "x": {"datum": {"year": 1997, "month": 8, "date": 18}, "type": "temporal", "axis": {"title": null}},
        "y": {"datum": 9.214, "type": "quantitative", "axis": {"title": null}}
      }
    },
    {
      "data": {"name": "one"},
      "mark": {"type": "text", "text": "H:", "align": "left", "baseline": "middle", "fontSize": 12.5, "fontWeight": "bold", "color": "#131722", "font": "Open Sans"},
      "encoding": {
        "x": {"datum": {"year": 1999, "month": 1, "date": 8}, "type": "temporal", "axis": {"title": null}},
        "y": {"datum": 9.214, "type": "quantitative", "axis": {"title": null}}
      }
    },
    {
      "data": {"name": "one"},
      "mark": {"type": "text", "text": "6.7898", "align": "left", "baseline": "middle", "fontSize": 12.5, "color": "#ef5350", "font": "Open Sans"},
      "encoding": {
        "x": {"datum": {"year": 1999, "month": 6, "date": 15}, "type": "temporal", "axis": {"title": null}},
        "y": {"datum": 9.214, "type": "quantitative", "axis": {"title": null}}
      }
    },
    {
      "data": {"name": "one"},
      "mark": {"type": "text", "text": "L:", "align": "left", "baseline": "middle", "fontSize": 12.5, "fontWeight": "bold", "color": "#131722", "font": "Open Sans"},
      "encoding": {
        "x": {"datum": {"year": 2000, "month": 11, "date": 16}, "type": "temporal", "axis": {"title": null}},
        "y": {"datum": 9.214, "type": "quantitative", "axis": {"title": null}}
      }
    },
    {
      "data": {"name": "one"},
      "mark": {"type": "text", "text": "6.7896", "align": "left", "baseline": "middle", "fontSize": 12.5, "color": "#ef5350", "font": "Open Sans"},
      "encoding": {
        "x": {"datum": {"year": 2001, "month": 4, "date": 11}, "type": "temporal", "axis": {"title": null}},
        "y": {"datum": 9.214, "type": "quantitative", "axis": {"title": null}}
      }
    },
    {
      "data": {"name": "one"},
      "mark": {"type": "text", "text": "C:", "align": "left", "baseline": "middle", "fontSize": 12.5, "fontWeight": "bold", "color": "#131722", "font": "Open Sans"},
      "encoding": {
        "x": {"datum": {"year": 2002, "month": 9, "date": 1}, "type": "temporal", "axis": {"title": null}},
        "y": {"datum": 9.214, "type": "quantitative", "axis": {"title": null}}
      }
    },
    {
      "data": {"name": "one"},
      "mark": {"type": "text", "text": "6.7896", "align": "left", "baseline": "middle", "fontSize": 12.5, "color": "#ef5350", "font": "Open Sans"},
      "encoding": {
        "x": {"datum": {"year": 2003, "month": 1, "date": 24}, "type": "temporal", "axis": {"title": null}},
        "y": {"datum": 9.214, "type": "quantitative", "axis": {"title": null}}
      }
    },
    {
      "data": {"name": "one"},
      "mark": {"type": "rect", "fill": null, "stroke": "#4a4a4a", "strokeWidth": 1.5, "clip": false},
      "encoding": {
        "x": {"datum": {"year": 1987, "month": 12, "date": 1}, "type": "temporal", "axis": {"title": null}},
        "x2": {"datum": {"year": 2023, "month": 12, "date": 12}},
        "y": {"datum": 9.0286, "type": "quantitative", "axis": {"title": null}},
        "y2": {"datum": 3.057}
      }
    },
    {
      "data": {"name": "one"},
      "mark": {"type": "rect", "fill": null, "stroke": "#4a4a4a", "strokeWidth": 1.5, "clip": false},
      "encoding": {
        "x": {"datum": {"year": 2022, "month": 4, "date": 3}, "type": "temporal", "axis": {"title": null}},
        "x2": {"datum": {"year": 2023, "month": 12, "date": 12}},
        "y": {"datum": 3.4429, "type": "quantitative", "axis": {"title": null}},
        "y2": {"datum": 3.057}
      }
    },
    {
      "data": {"name": "one"},
      "mark": {"type": "rect", "fill": "white", "stroke": "#c8c8c8", "strokeWidth": 1, "cornerRadius": 3, "clip": false},
      "encoding": {
        "x": {"datum": {"year": 2022, "month": 7, "date": 30}, "type": "temporal", "axis": {"title": null}},
        "x2": {"datum": {"year": 2023, "month": 8, "date": 4}},
        "y": {"datum": 8.919, "type": "quantitative", "axis": {"title": null}},
        "y2": {"datum": 8.667}
      }
    },
    {
      "data": {"name": "one"},
      "mark": {"type": "text", "text": "CNY", "align": "center", "baseline": "middle", "fontSize": 11.5, "color": "#4a4a4a", "font": "Liberation Sans"},
      "encoding": {
        "x": {"datum": {"year": 2023, "month": 2, "date": 1}, "type": "temporal", "axis": {"title": null}},
        "y": {"datum": 8.793, "type": "quantitative", "axis": {"title": null}}
      }
    },
    {
      "data": {"name": "one"},
      "mark": {"type": "point", "shape": "M-1,0.55 L-1,0.1 L-0.45,-0.55 L0,0 L0.45,-0.6 L1,0.05 L1,0.55 Z", "filled": true, "color": "#2196f3", "opacity": 1, "size": 380},
      "encoding": {
        "x": {"datum": {"year": 1988, "month": 4, "date": 25}, "type": "temporal", "axis": {"title": null}},
        "y": {"datum": 2.8, "type": "quantitative", "axis": {"title": null}}
      }
    },
    {
      "data": {"name": "one"},
      "mark": {"type": "text", "text": "TradingView", "align": "left", "baseline": "middle", "fontSize": 13.5, "color": "#131722", "font": "Liberation Sans"},
      "encoding": {
        "x": {"datum": {"year": 1988, "month": 9, "date": 18}, "type": "temporal", "axis": {"title": null}},
        "y": {"datum": 2.8, "type": "quantitative", "axis": {"title": null}}
      }
    }
  ]
}
